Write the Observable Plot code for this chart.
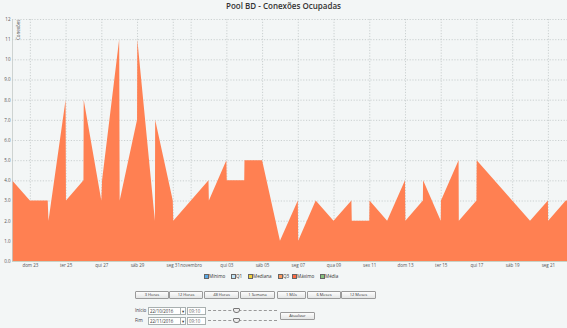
<!DOCTYPE html>
<html>
<head>
<meta charset="utf-8">
<script src="https://cdn.jsdelivr.net/npm/d3@7"></script>
<script src="https://cdn.jsdelivr.net/npm/@observablehq/plot@0.6"></script>
<style>
  html, body { margin: 0; padding: 0; background: #f3f6f6; }
  #wrap { position: relative; width: 567px; height: 328px; overflow: hidden; font-family: "Open Sans", "DejaVu Sans", sans-serif; }
  #title { position: absolute; left: 0; top: 0; width: 567px; height: 12px; line-height: 12px; text-align: center; font-size: 8px; font-weight: 600; color: #333; }
  #chart { position: absolute; left: 0; top: 12px; }
  .abs { position: absolute; }
  .leg { position: absolute; top: 273px; height: 6px; font-size: 4.6px; line-height: 6px; color: #333; white-space: nowrap; }
  .sw { position: absolute; top: 1px; width: 3px; height: 3px; border: 0.6px solid #666; }
  .btn { position: absolute; top: 291px; height: 6px; border: 0.6px solid #9a9a9a; border-radius: 1px; background: linear-gradient(#fdfdfd, #e4e6e6); font-size: 4px; line-height: 6px; text-align: center; color: #333; white-space: nowrap; }
  .lbl { position: absolute; font-size: 4.6px; color: #334; white-space: nowrap; }
  .inp { position: absolute; height: 6px; border: 0.6px solid #a8b0b0; background: #fff; font-size: 4.4px; line-height: 6px; color: #333; padding-left: 1px; box-sizing: content-box; white-space: nowrap; }
  .slider { position: absolute; height: 0; border-top: 0.6px dashed #999; }
  .thumb { position: absolute; width: 5px; height: 3px; border: 0.6px solid #777; border-radius: 1px 1px 3px 3px; background: #eee; }
</style>
</head>
<body>
<div id="wrap">
  <div id="title">Pool BD - Conexões Ocupadas</div>
  <div id="chart"></div>
  <div id="extras"></div>
</div>
<script>
// ---- data ----
const times = [
  "2016-10-22T00:00Z", "2016-10-23T00:00Z", "2016-10-24T00:00Z", "2016-10-24T01:00Z",
  "2016-10-25T00:00Z", "2016-10-25T00:30Z", "2016-10-26T00:00Z", "2016-10-26T00:20Z",
  "2016-10-27T00:00Z", "2016-10-27T01:00Z", "2016-10-28T00:00Z", "2016-10-28T00:40Z",
  "2016-10-29T00:00Z", "2016-10-29T00:20Z", "2016-10-30T00:00Z", "2016-10-30T00:20Z",
  "2016-10-31T00:00Z", "2016-10-31T00:40Z", "2016-11-02T00:00Z", "2016-11-02T00:30Z",
  "2016-11-03T00:00Z", "2016-11-03T00:30Z", "2016-11-04T00:00Z", "2016-11-04T00:20Z",
  "2016-11-05T00:00Z", "2016-11-06T00:00Z", "2016-11-07T00:00Z", "2016-11-07T00:30Z",
  "2016-11-08T00:00Z", "2016-11-09T00:00Z", "2016-11-10T00:00Z", "2016-11-10T00:30Z",
  "2016-11-11T00:00Z", "2016-11-11T00:20Z", "2016-11-12T00:00Z", "2016-11-13T00:00Z",
  "2016-11-13T00:30Z", "2016-11-14T00:00Z", "2016-11-14T00:20Z", "2016-11-15T00:00Z",
  "2016-11-15T00:20Z", "2016-11-16T00:00Z", "2016-11-16T00:20Z", "2016-11-17T00:00Z",
  "2016-11-17T00:20Z", "2016-11-20T00:00Z", "2016-11-21T00:00Z", "2016-11-21T00:20Z",
  "2016-11-22T00:00Z", "2016-11-22T01:40Z"
];
const maximo = [
  4, 3, 3, 2,
  8, 3, 4, 8,
  3, 4, 11, 3,
  7, 11, 2, 7,
  3, 2, 4, 3,
  5, 4, 4, 5,
  5, 1, 3, 1,
  3, 2, 3, 2,
  2, 3, 2, 4,
  2, 3, 4, 2,
  3, 5, 2, 3,
  5, 2, 3, 2,
  3, 3
];
const xDomain = ["2016-10-22T00:00Z", "2016-11-22T01:40Z"];
const yTicks = [0, 1, 2, 3, 4, 5, 6, 7, 8, 9, 10, 11, 12];
const tickDates = [
  "2016-10-23", "2016-10-25", "2016-10-27", "2016-10-29", "2016-10-31", "2016-11-01",
  "2016-11-03", "2016-11-05", "2016-11-07", "2016-11-09", "2016-11-11", "2016-11-13",
  "2016-11-15", "2016-11-17", "2016-11-19", "2016-11-21"
];
const tickLabels = [
  "dom 23", "ter 25", "qui 27", "sáb 29", "seg 31", "novembro",
  "qui 03", "sáb 05", "seg 07", "qua 09", "sex 11", "dom 13",
  "ter 15", "qui 17", "sáb 19", "seg 21"
];
const legendNames = ["Mínimo", "Q1", "Mediana", "Q3", "Máximo", "Média"];
const legendColors = ["#5aa9e6", "#bfe3f5", "#f2d13a", "#ff9a5c", "#ff6a42", "#86c17e"];
const buttonLabels = ["3 Horas", "12 Horas", "48 Horas", "1 Semana", "1 Mês", "6 Meses", "12 Meses"];

// ---- build ----
const data = times.map((t, i) => ({date: new Date(t), value: maximo[i]}));
const ticks = tickDates.map(d => new Date(d + "T00:00Z"));
const labelOf = new Map(ticks.map((d, i) => [+d, tickLabels[i]]));
const x0 = new Date(xDomain[0]), x1 = new Date(xDomain[1]);

const chart = Plot.plot({
  width: 567,
  height: 258,
  marginTop: 7,
  marginBottom: 9,
  marginLeft: 12,
  marginRight: 0,
  style: {background: "transparent", fontFamily: "'Open Sans', 'DejaVu Sans', sans-serif"},
  x: {type: "utc", domain: [x0, x1]},
  y: {domain: [0, 12]},
  marks: [
    Plot.gridY(yTicks.slice(1), {stroke: "#b9c0c0", strokeOpacity: 1, strokeDasharray: "1.2,1.6", strokeWidth: 0.7}),
    Plot.gridX(ticks, {stroke: "#b9c0c0", strokeOpacity: 1, strokeDasharray: "1.2,1.6", strokeWidth: 0.7}),
    Plot.areaY(data, {x: "date", y: "value", fill: "#ff8052", fillOpacity: 1, curve: "linear"}),
    Plot.ruleY([0], {stroke: "#bcc8b6", strokeWidth: 0.8}),
    Plot.ruleX([x0], {stroke: "#c4cac8", strokeWidth: 0.8}),
    Plot.axisY(yTicks, {tickSize: 0, tickPadding: 2, fontSize: 4.5, fill: "#555", label: null,
      tickFormat: d => d >= 10 ? String(d) : d.toFixed(1)}),
    Plot.axisX(ticks, {tickSize: 0, tickPadding: 2, fontSize: 4.5, fill: "#555", label: null,
      tickFormat: d => labelOf.get(+d)}),
    Plot.text(["Conexões"], {frameAnchor: "top-left", rotate: -90, textAnchor: "end", dx: 4, dy: 0, fontSize: 4.5, fill: "#555"})
  ]
});
document.getElementById("chart").appendChild(chart);

// ---- legend and controls ----
const ex = document.getElementById("extras");
const legX = [204, 231, 248, 278, 292, 320];
legendNames.forEach((n, i) => {
  const d = document.createElement("div");
  d.className = "leg";
  d.style.left = legX[i] + "px";
  d.innerHTML = `<span class="sw" style="left:0;background:${legendColors[i]}"></span><span style="margin-left:5px">${n}</span>`;
  ex.appendChild(d);
});
const btnPos = [[135, 32], [169, 32], [204, 33], [240, 33], [277, 27], [307, 32], [341, 33]];
buttonLabels.forEach((b, i) => {
  const d = document.createElement("div");
  d.className = "btn";
  d.style.left = btnPos[i][0] + "px";
  d.style.width = btnPos[i][1] + "px";
  d.textContent = b;
  ex.appendChild(d);
});
function add(cls, css, text) {
  const d = document.createElement("div");
  d.className = cls;
  d.style.cssText = css;
  if (text) d.textContent = text;
  ex.appendChild(d);
  return d;
}
const rows = [["Início", "22/10/2016", 306.5], ["Fim", "22/11/2016", 316.5]];
rows.forEach(([lab, date, top], r) => {
  add("lbl", `left:135px;top:${top}px;line-height:7px;`, lab);
  add("inp", `left:148px;top:${top}px;width:31px;`, date);
  add("inp", `left:180px;top:${top}px;width:4px;text-align:center;padding-left:0;`, "▾");
  add("inp", `left:187px;top:${top}px;width:16px;color:#666;`, "09:10");
  add("slider", `left:208px;top:${top + 3.5}px;width:69px;`);
  add("thumb", `left:233px;top:${top + 1.5}px;`);
});
add("btn", "left:280px;top:311.5px;width:33px;", "Atualizar");
</script>
</body>
</html>
